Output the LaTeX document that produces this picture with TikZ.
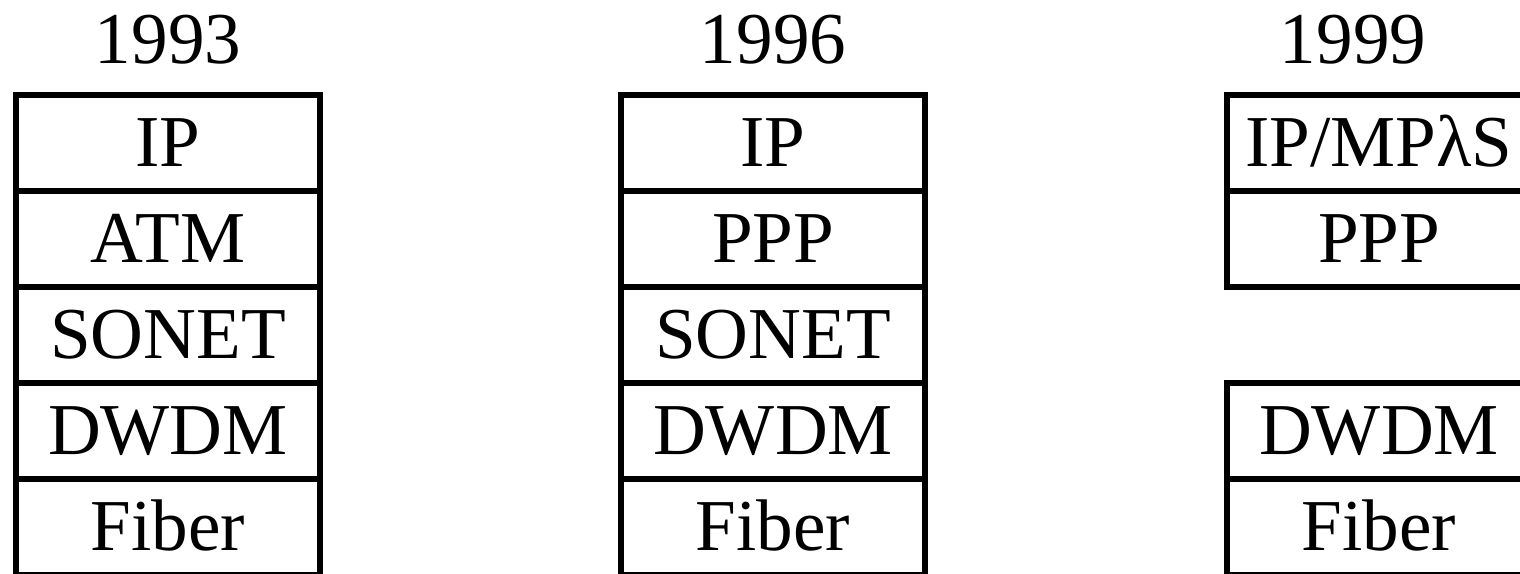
\documentclass[tikz,border=0pt]{standalone}
\usepackage{fontspec}
\setmainfont{Liberation Serif}
\usepackage{tikz}

\tikzset{
  layer/.style={draw, line width=0.13cm, minimum width=7.6cm, minimum height=2.4cm,
                inner sep=0pt, text height=34pt, text depth=0pt},
  year/.style={anchor=base}
}

\begin{document}
\begin{tikzpicture}[x=0.025cm, y=-0.025cm, font=\fontsize{52}{60}\selectfont]
\useasboundingbox (0,0) rectangle (1520,573);
\clip (0,0) rectangle (1520,573);
% 1993
\node[year] (y93) at (168,63) {1993};
\node[layer] (ip93)    at (168,143) {IP};
\node[layer] (atm93)   at (168,239) {ATM};
\node[layer] (sonet93) at (168,335) {SONET};
\node[layer] (dwdm93)  at (168,431) {DWDM};
\node[layer] (fiber93) at (168,527) {Fiber};
% 1996
\node[year] (y96) at (773,63) {1996};
\node[layer] (ip96)    at (773,143) {IP};
\node[layer] (ppp96)   at (773,239) {PPP};
\node[layer] (sonet96) at (773,335) {SONET};
\node[layer] (dwdm96)  at (773,431) {DWDM};
\node[layer] (fiber96) at (773,527) {Fiber};
% 1999
\node[year] (y99) at (1353,63) {1999};
\node[layer] (ip99)    at (1379,143) {IP/MPλS};
\node[layer] (ppp99)   at (1379,239) {PPP};
\node[layer] (dwdm99)  at (1379,431) {DWDM};
\node[layer] (fiber99) at (1379,527) {Fiber};
\end{tikzpicture}
\end{document}
